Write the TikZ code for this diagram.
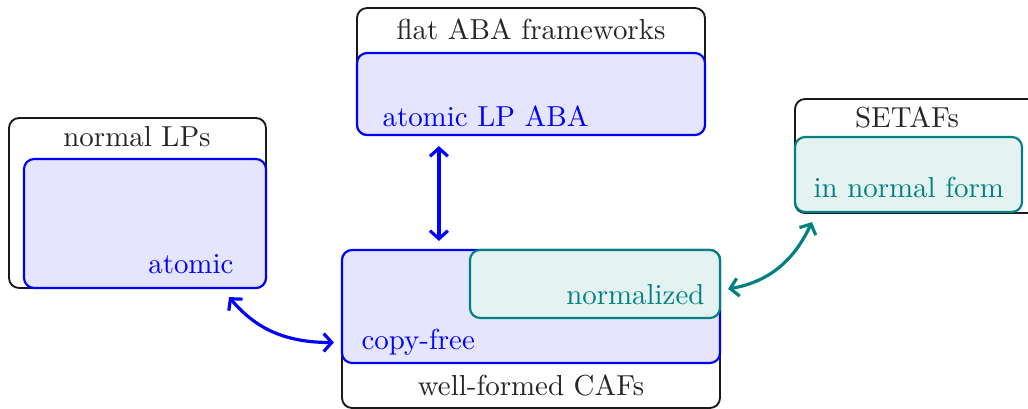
\documentclass[tikz,border=0pt]{standalone}
\usetikzlibrary{fit,calc,arrows.meta}
\definecolor{tealc}{RGB}{0,128,128}
\begin{document}
\begin{tikzpicture}[x=0.346pt,y=-0.346pt,
  outer/.style={draw=black!90, line width=0.65pt, rounded corners=3.5pt, fill=white, inner sep=0pt},
  bluebox/.style={draw=blue, fill=blue!10, line width=0.75pt, rounded corners=3.5pt, inner sep=0pt},
  tealbox/.style={draw=tealc, fill=tealc!10, line width=0.75pt, rounded corners=3.5pt, inner sep=0pt},
  lab/.style={inner sep=0pt, text=black!85},
  link/.style={line width=1.1pt, {Straight Barb[length=2.8pt,width=6.2pt]}-{Straight Barb[length=2.8pt,width=6.2pt]}}]
\useasboundingbox (0,0) rectangle (1028,409);

% flat ABA frameworks
\node[outer, fit={(357,8) (705,135)}] (aba) {};
\node[bluebox, fit={(357,53) (705,135)}] (abain) {};
\node[lab, anchor=base] (abat) at (531,40) {flat ABA frameworks};
\node[lab, anchor=base west, text=blue] (abait) at (382,127) {atomic LP ABA};

% normal LPs
\node[outer, fit={(9,118) (266,288)}] (lp) {};
\node[bluebox, fit={(24,159) (266,288)}] (lpin) {};
\node[lab, anchor=base] (lpt) at (137,147) {normal LPs};
\node[lab, anchor=base east, text=blue] (lpit) at (234,274) {atomic};

% SETAFs
\node[outer, fit={(795,99) (1040,213)}] (sf) {};
\node[tealbox, fit={(795,137) (1022,212)}] (sfin) {};
\node[lab, anchor=base] (sft) at (907,128) {SETAFs};
\node[lab, anchor=base west, text=tealc] (sfit) at (813,198) {in normal form};

% well-formed CAFs
\node[outer, fit={(342,250) (720,408)}] (caf) {};
\node[bluebox, fit={(342,250) (720,363)}] (cafin) {};
\node[tealbox, fit={(470,250) (720,318)}] (norm) {};
\node[lab, anchor=base] (caft) at (531,395) {well-formed CAFs};
\node[lab, anchor=base west, text=blue] (cafit) at (361,349) {copy-free};
\node[lab, anchor=base east, text=tealc] (normt) at (705,305) {normalized};

% translations
\draw[link, blue] ($(abain.south west)+(83,10)$) -- ($(cafin.north west)+(98,-8)$);
\draw[link, blue] ($(lpin.south east)+(-38,8)$) to[out=-50, in=180] ($(cafin.west)+(-7,36)$);
\draw[link, tealc] ($(norm.east)+(7,5)$) to[out=10, in=-115] ($(sfin.south west)+(18,9)$);
\end{tikzpicture}
\end{document}
